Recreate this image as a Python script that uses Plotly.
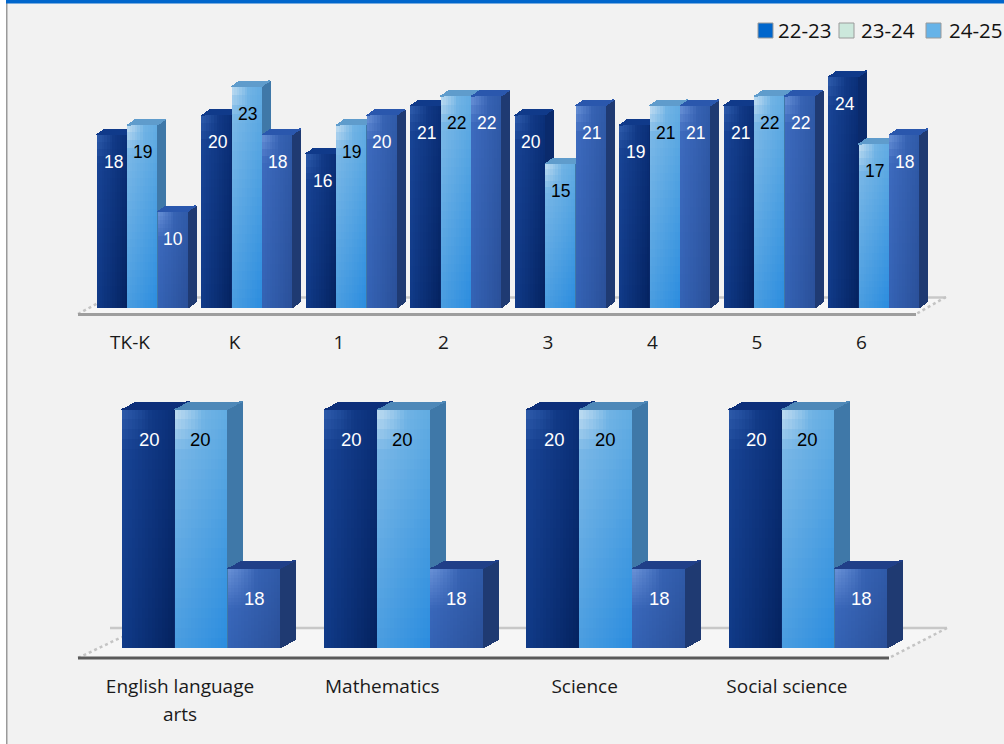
import plotly.graph_objects as go

series_names = ["22-23", "23-24", "24-25"]
legend_colors = ["#0066CC", "#CCE8DC", "#66B3E8"]

grades = ["TK-K", "K", "1", "2", "3", "4", "5", "6"]
grade_2223 = [18, 20, 16, 21, 20, 19, 21, 24]
grade_2324 = [19, 23, 19, 22, 15, 21, 22, 17]
grade_2425 = [10, 18, 20, 22, 21, 21, 22, 18]

subjects = ["English language", "Mathematics", "Science", "Social science"]
subject_2223 = [20, 20, 20, 20]
subject_2324 = [20, 20, 20, 20]
subject_2425 = [18, 18, 18, 18]

W, H = 1004, 744
FONT = "Open Sans"
LABEL_FONT = "Liberation Sans"

FRONT = [
    ("#1a4698", "#0a2f78", "#103a88", "#04225f"),
    ("#84bde8", "#62ace2", "#4a9de0", "#2a8cdf"),
    ("#3f6cc0", "#2f5aa8", "#3463b5", "#2a4f98"),
]
GLOW = ["#2f5cab", "#c4dff2", "#6a92d6"]
SIDE = ["#0a2a6c", "#3f78a8", "#1f3a72"]
LABEL_COLORS = ["white", "black", "white"]


def hex2rgb(h):
    return [int(h[i:i + 2], 16) for i in (1, 3, 5)]


def mix(c, glow, u, v, glow_v):
    tl, tr, bl, br = [hex2rgb(x) for x in c]
    g = hex2rgb(glow)
    w = max(0, 1 - u / 0.55) * max(0, 1 - v / glow_v)
    out = []
    for k in range(3):
        top = tl[k] + (tr[k] - tl[k]) * u
        bot = bl[k] + (br[k] - bl[k]) * u
        val = top + (bot - top) * v
        out.append(round(val + (g[k] - val) * w))
    return "rgb(%d,%d,%d)" % tuple(out)


def add_chart(fig, cats, values, xname, yname, cfg):
    ux, uy = cfg["ux"], cfg["uy"]
    base = cfg["base"]
    bw, left = cfg["bw"], cfg["left"]
    dx, dy = cfg["dx"], cfg["dy"]
    annotations = []
    for s, vals in enumerate(values):
        xs, ys, bs, ws, cs = [], [], [], [], []
        for i, val in enumerate(vals):
            L = i + (left + s * bw) / ux
            R = L + bw / ux
            nc, nr = cfg["cols"], cfg["rows"]
            for r in range(nr):
                for c in range(nc):
                    xs.append(L + (c + .5) * (bw / nc) / ux)
                    ws.append((bw / nc + .4) / ux)
                    hgt = (val - base) / nr
                    bs.append(val - (r + 1) * hgt)
                    ys.append(hgt * 1.03)
                    cs.append(mix(FRONT[s], GLOW[s], (c + .5) / nc, (r + .5) / nr,
                                  cfg["glow_px"] / ((val - base) * uy)))
            for k in range(dx):
                xs.append(R + (k + .5) / ux)
                ws.append(1.3 / ux)
                rise = (k + .5) * dy / dx / uy
                bs.append(base + rise)
                ys.append(val - base)
                cs.append(SIDE[s])
            total = int(bw) + dx + 1
            for k in range(total):
                px = k + .5
                low = max(0, px - bw) * dy / dx
                high = min(dy, px * dy / dx)
                if high <= low:
                    continue
                xs.append(L + px / ux)
                ws.append(1.3 / ux)
                bs.append(val + low / uy)
                ys.append((high - low) / uy)
                cs.append(cfg["cap"][s])
            annotations.append(dict(
                x=(L + R) / 2 + cfg["lab_dx"][s] / ux, y=val, xref=xname, yref=yname,
                yshift=-cfg["lab_dy"], text=str(val), showarrow=False,
                font=dict(family=LABEL_FONT, size=cfg["lab_size"], color=LABEL_COLORS[s]),
            ))
        fig.add_trace(go.Bar(
            x=xs, y=ys, base=bs, width=ws, name=series_names[s], showlegend=False,
            marker=dict(color=cs, line=dict(width=0)), hoverinfo="skip",
            xaxis=xname, yaxis=yname,
        ))
    return annotations


fig = go.Figure()

top = dict(ux=104.5, uy=9.63, tick0=130, base=0, base_px=308, bw=30.5, left=97 - 130,
           dx=8, dy=6, cols=12, rows=24, lab_dx=[1, 0, 0], lab_dy=27, lab_size=17.5, glow_px=28,
           cap=["#103a8a", "#5f9ccc", "#2a57ad"])
bot = dict(ux=202.3, uy=79.5, tick0=180, base=17, base_px=648, bw=53, left=122 - 180,
           dx=15, dy=8, cols=16, rows=24, lab_dx=[1, -1, 0], lab_dy=29.5, lab_size=18.5, glow_px=40,
           cap=["#0d2f7a", "#4e88b8", "#203f88"])

ann = add_chart(fig, grades, [grade_2223, grade_2324, grade_2425], "x", "y", top)
ann += add_chart(fig, subjects, [subject_2223, subject_2324, subject_2425], "x2", "y2", bot)


def yrange(cfg, px_bottom, px_top):
    return [cfg["base"] + (cfg["base_px"] - px_bottom) / cfg["uy"],
            cfg["base"] + (cfg["base_px"] - px_top) / cfg["uy"]]


def xrange(cfg):
    return [-cfg["tick0"] / cfg["ux"], (W - cfg["tick0"]) / cfg["ux"]]


TOP_AX = (329, 55)
BOT_AX = (673, 385)
axis_font = dict(family=FONT, size=19, color="#1a1a1a")
ax_common = dict(showgrid=False, zeroline=False, showline=False, ticks="", tickfont=axis_font, tickangle=0)

fig.update_layout(
    width=W, height=H, margin=dict(l=0, r=0, t=0, b=0),
    paper_bgcolor="#F2F2F2", plot_bgcolor="rgba(0,0,0,0)",
    barmode="overlay", bargap=0, showlegend=False,
    xaxis=dict(domain=[0, 1], range=xrange(top), anchor="y", tickmode="array",
               tickvals=list(range(len(grades))), ticktext=grades, **ax_common),
    yaxis=dict(domain=[1 - TOP_AX[0] / H, 1 - TOP_AX[1] / H], range=yrange(top, *TOP_AX), visible=False),
    xaxis2=dict(domain=[0, 1], range=xrange(bot), anchor="y2", tickmode="array",
                tickvals=list(range(len(subjects))), ticktext=subjects, **ax_common),
    yaxis2=dict(domain=[1 - BOT_AX[0] / H, 1 - BOT_AX[1] / H], range=yrange(bot, *BOT_AX), visible=False),
)

ann.append(dict(x=0, y=0, xref="x2", yref="paper", yshift=30.5, text="arts", showarrow=False,
                font=axis_font, yanchor="middle"))


def px_line(x0, y0, x1, y1, color, width, dash="solid"):
    return dict(type="line", xref="paper", yref="paper", x0=x0 / W, x1=x1 / W,
                y0=1 - y0 / H, y1=1 - y1 / H, layer="below",
                line=dict(color=color, width=width, dash=dash))


shapes = [
    dict(type="rect", xref="paper", yref="paper", x0=0, x1=6 / W, y0=0, y1=1,
         fillcolor="white", line=dict(width=0)),
    dict(type="rect", xref="paper", yref="paper", x0=6 / W, x1=7.5 / W, y0=0, y1=1,
         fillcolor="#9a9a9a", line=dict(width=0)),
    dict(type="rect", xref="paper", yref="paper", x0=6 / W, x1=1, y0=1 - 3.5 / H, y1=1,
         fillcolor="#0066CC", line=dict(width=0)),
    dict(type="path", xref="paper", yref="paper", layer="below",
         path="M %f %f L %f %f L %f %f L %f %f Z" % (78 / W, 1 - 314 / H, 109 / W, 1 - 297 / H,
                                                    946 / W, 1 - 297 / H, 916 / W, 1 - 314 / H),
         fillcolor="#f6f6f6", line=dict(width=0)),
    dict(type="path", xref="paper", yref="paper", layer="below",
         path="M %f %f L %f %f L %f %f L %f %f Z" % (78 / W, 1 - 658 / H, 137 / W, 1 - 628 / H,
                                                    947 / W, 1 - 628 / H, 889 / W, 1 - 658 / H),
         fillcolor="#f6f6f6", line=dict(width=0)),
    px_line(109, 297.5, 946, 297.5, "#c8c8c8", 2.5),
    px_line(946, 297, 916, 314, "#c4c4c4", 2.5, "dot"),
    px_line(78, 314, 109, 297, "#c4c4c4", 2.5, "dot"),
    px_line(78, 314.5, 916, 314.5, "#9e9e9e", 3),
    px_line(110, 628, 947, 628, "#c8c8c8", 2.5),
    px_line(947, 628, 889, 658, "#c4c4c4", 2.5, "dot"),
    px_line(78, 658, 122, 637, "#c4c4c4", 2.5, "dot"),
    px_line(78, 658, 889, 658, "#5a5a5a", 3),
]

legend_x = [758, 839, 926]
legend_text_x = [776, 859, 947]
for sx, tx, name, col in zip(legend_x, legend_text_x, series_names, legend_colors):
    shapes.append(dict(type="rect", xref="paper", yref="paper", x0=sx / W, x1=(sx + 15) / W,
                       y0=1 - 38 / H, y1=1 - 23 / H, fillcolor=col,
                       line=dict(color="#9a9a9a", width=1)))
    ann.append(dict(x=tx / W, y=1 - 30 / H, xref="paper", yref="paper", text=name,
                    xanchor="left", yanchor="middle", showarrow=False,
                    font=dict(family=FONT, size=20.5, color="#111111")))

fig.update_layout(shapes=shapes, annotations=ann)
fig.write_html("out.html", config=dict(displayModeBar=False),
               post_script="document.body.style.margin='0';")
